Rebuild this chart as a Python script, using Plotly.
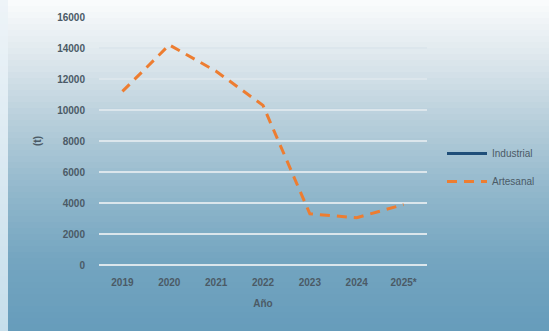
import plotly.graph_objects as go

years = ["2019", "2020", "2021", "2022", "2023", "2024", "2025*"]
industrial = [None, None, None, None, None, None, None]
artesanal = [11200, 14200, 12500, 10300, 3300, 3050, 3900]
y_ticks = [0, 2000, 4000, 6000, 8000, 10000, 12000, 14000, 16000]
y_tick_text = ["0", "2000", "4000", "6000", "8000", "10000", "12000", "14000", "16000"]

W, H = 549, 331
ml, mr, mt, mb = 99, 122, 17, 66

fig = go.Figure()
fig.add_trace(go.Scatter(x=years, y=industrial, name="Industrial", mode="lines",
                         legendgroup="a",
                         line=dict(color="#1f4e79", width=3)))
fig.add_trace(go.Scatter(x=years, y=artesanal, name="Artesanal", mode="lines",
                         legendgroup="b",
                         line=dict(color="#ed7d31", width=3, dash="10px,7px")))

# background gradient via shapes
stops = [(0, (250, 252, 253)), (50, (226, 234, 239)), (120, (184, 207, 219)),
         (190, (146, 184, 204)), (260, (116, 165, 192)), (331, (102, 156, 187))]
def col(y):
    for (y0, c0), (y1, c1) in zip(stops[:-1], stops[1:]):
        if y0 <= y <= y1:
            t = (y - y0) / (y1 - y0)
            return "rgb(%d,%d,%d)" % tuple(round(a + (b - a) * t) for a, b in zip(c0, c1))
    return "rgb(%d,%d,%d)" % stops[-1][1]

pw = W - ml - mr
ph = H - mt - mb
def px2x(x):
    return (x - ml) / pw
def px2y(y):
    return 1 - (y - mt) / ph

shapes = []
step = 6
for y in range(0, H, step):
    shapes.append(dict(type="rect", xref="paper", yref="paper", layer="below",
                       x0=px2x(-5), x1=px2x(W + 5), y0=px2y(y + step + 0.5), y1=px2y(y),
                       fillcolor=col(y + step / 2), line=dict(width=0)))
# left light strip
lstops = [(0, (238, 244, 248)), (331, (198, 222, 235))]
for y in range(0, H, step):
    t = (y + step / 2) / H
    c = tuple(round(a + (b - a) * t) for a, b in zip(lstops[0][1], lstops[1][1]))
    shapes.append(dict(type="rect", xref="paper", yref="paper", layer="below",
                       x0=px2x(-5), x1=px2x(8), y0=px2y(y + step + 0.5), y1=px2y(y),
                       fillcolor="rgb(%d,%d,%d)" % c, line=dict(width=0)))

font_col = "#4b5a66"
grid_col = "#dce6ec"
fig.update_layout(
    width=W, height=H,
    margin=dict(l=ml, r=mr, t=mt, b=mb, autoexpand=False),
    paper_bgcolor="rgba(0,0,0,0)", plot_bgcolor="rgba(0,0,0,0)",
    font=dict(family="Liberation Sans, Arial, sans-serif", size=10, color=font_col),
    shapes=shapes,
    xaxis=dict(type="category", range=[-0.5, 6.5], showgrid=False, zeroline=False,
               showline=False, ticks="", automargin=False, ticklabelstandoff=10,
               tickfont=dict(size=10, color=font_col, weight="bold"),
               title=dict(text="<b>Año</b>", font=dict(size=10, color=font_col), standoff=12)),
    yaxis=dict(range=[0, 16000], tickvals=y_ticks, ticktext=y_tick_text, showgrid=True,
               gridcolor=grid_col, gridwidth=2, zeroline=True, zerolinecolor=grid_col,
               zerolinewidth=2, automargin=False,
               showline=False, ticks="", ticklabelstandoff=13,
               tickfont=dict(size=10, color=font_col, weight="bold"),
               title=dict(text="<b>(t)</b>", font=dict(size=10, color=font_col), standoff=13)),
    legend=dict(x=px2x(442), y=px2y(139), xanchor="left", yanchor="top",
                bgcolor="rgba(0,0,0,0)", font=dict(size=10, color=font_col),
                tracegroupgap=9, itemwidth=40),
    showlegend=True,
)
fig.write_html("out.html", config={"displayModeBar": False},
               post_script="document.body.style.margin='0';")
